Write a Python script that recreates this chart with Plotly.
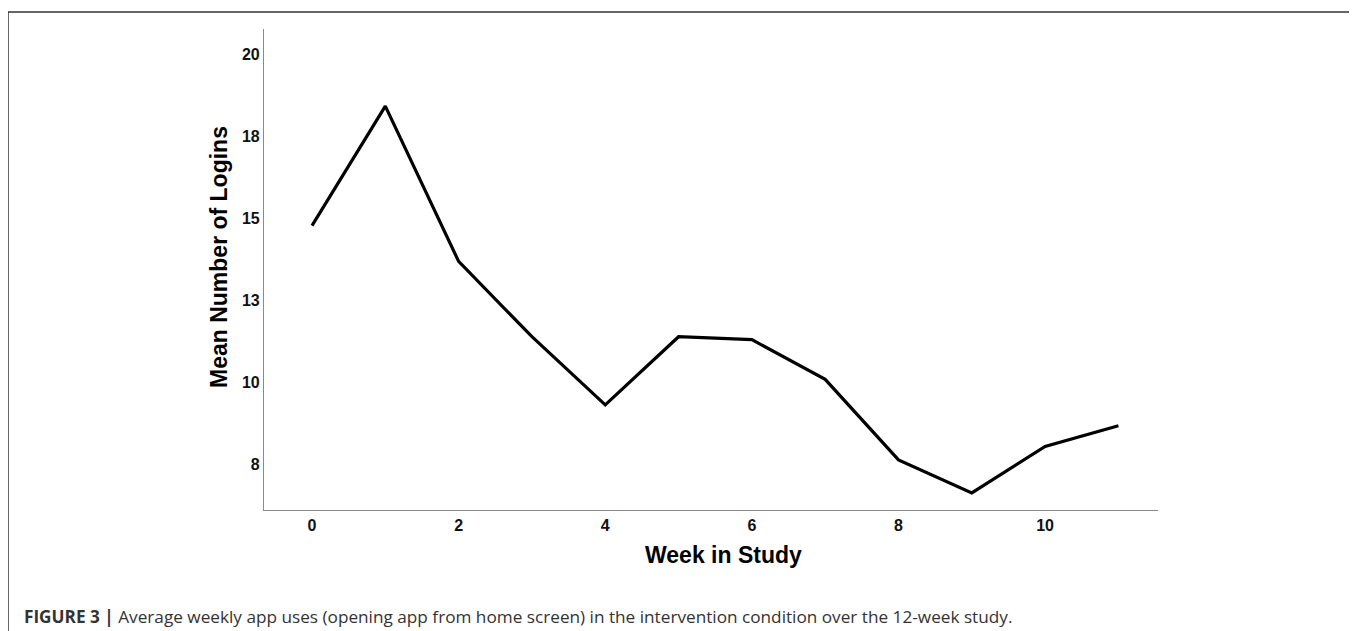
import plotly.graph_objects as go

# ---- data ----
weeks = [0, 1, 2, 3, 4, 5, 6, 7, 8, 9, 10, 11]
mean_logins = [14.78, 18.43, 13.69, 11.39, 9.31, 11.39, 11.30, 10.09, 7.63, 6.62, 8.04, 8.67]
x_tick_vals = [0, 2, 4, 6, 8, 10]
x_tick_text = ["0", "2", "4", "6", "8", "10"]
y_tick_vals = [7.5, 10, 12.5, 15, 17.5, 20]
y_tick_text = ["8", "10", "13", "15", "18", "20"]

# the page body has an 8px default margin; positions below are in page pixels
OFF = 8
W, H = 1357 - OFF, 631 - OFF
AX_L, AX_R, AX_T, AX_B = 264, 1158, 29, 510  # plot area in page pixels
ML, MT = AX_L - OFF, AX_T - OFF
MR, MB = W - (AX_R - OFF), H - (AX_B - OFF)
PW, PH = AX_R - AX_L, AX_B - AX_T

def px(xp):
    return (xp - AX_L) / PW

def py(yp):
    return (AX_B - yp) / PH

FONT = "Liberation Sans, Arial, Helvetica, sans-serif"
CAP_FONT = "Open Sans, Liberation Sans, Arial, sans-serif"

fig = go.Figure()
fig.add_trace(go.Scatter(
    x=weeks, y=mean_logins, mode="lines",
    line=dict(color="#000000", width=3.2),
    hoverinfo="x+y", showlegend=False,
))

fig.update_layout(
    width=W, height=H,
    margin=dict(l=ML, r=MR, t=MT, b=MB, pad=0),
    paper_bgcolor="white", plot_bgcolor="white",
    font=dict(family=FONT, color="#000000"),
    xaxis=dict(
        range=[-0.655, 11.54], tickvals=x_tick_vals, ticktext=x_tick_text,
        showgrid=False, zeroline=False, showline=True, linecolor="#8a8a8a", linewidth=1.2,
        ticks="outside", ticklen=1, tickcolor="rgba(0,0,0,0)",
        tickfont=dict(family=FONT, size=16, color="#111111", weight="bold"),
    ),
    yaxis=dict(
        range=[6.10, 20.785], tickvals=y_tick_vals, ticktext=y_tick_text,
        showgrid=False, zeroline=False, showline=True, linecolor="#8a8a8a", linewidth=1.2,
        ticks="", tickfont=dict(family=FONT, size=16, color="#111111", weight="bold"),
    ),
    annotations=[
        dict(text="<b>Mean Number of Logins</b>", xref="paper", yref="paper",
             x=px(219), y=py(257), xanchor="center", yanchor="middle", textangle=-90,
             showarrow=False, font=dict(family=FONT, size=23, color="#000000")),
        dict(text="<b>Week in Study</b>", xref="paper", yref="paper",
             x=px(723), y=py(555), xanchor="center", yanchor="middle",
             showarrow=False, font=dict(family=FONT, size=23, color="#000000")),
        dict(text="<b>FIGURE 3 |</b> Average weekly app uses (opening app from home screen) in the intervention condition over the 12-week study.",
             xref="paper", yref="paper", x=px(22), y=py(616), xanchor="left", yanchor="middle",
             showarrow=False, font=dict(family=CAP_FONT, size=17.2, color="#333333")),
    ],
    shapes=[
        dict(type="line", xref="paper", yref="paper", x0=px(8), x1=px(8), y0=py(12), y1=py(650),
             line=dict(color="#666666", width=2)),
        dict(type="line", xref="paper", yref="paper", x0=px(1355), x1=px(1355), y0=py(12), y1=py(650),
             line=dict(color="#777777", width=2)),
        dict(type="line", xref="paper", yref="paper", x0=px(8), x1=px(1355), y0=py(12), y1=py(12),
             line=dict(color="#333333", width=1.5)),
    ],
)

fig.write_html("out.html")
